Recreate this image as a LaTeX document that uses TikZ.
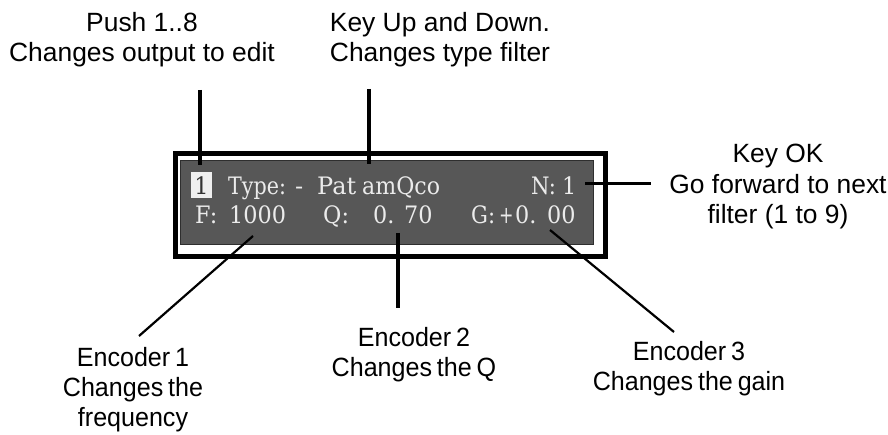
\documentclass[tikz,border=0pt]{standalone}
\usepackage{fontspec}
\setmainfont{Liberation Sans}
\newfontfamily\lcdfont{DejaVu Serif}
\newfontfamily\narrowsans[FakeStretch=0.95,WordSpace=0.7]{Liberation Sans}
\definecolor{lcdbg}{HTML}{575757}
\definecolor{lcdedge}{HTML}{2E2E2E}
\definecolor{lcdtxt}{HTML}{EBEBEB}
\definecolor{cursorbg}{HTML}{EFEFEF}
% horizontally narrowed display glyphs
\newcommand{\lcdsq}[2][0.93]{\scalebox{#1}[1]{#2}}
\begin{document}
\begin{tikzpicture}[x=1pt,y=-1pt,
  note/.style={font=\fontsize{26.4}{30.5}\selectfont, align=center, anchor=base, inner sep=0pt},
  narrownote/.style={note, font=\narrowsans\fontsize{26.4}{30}\selectfont},
  lcdtext/.style={font=\lcdfont\fontsize{24}{28}\selectfont, text=lcdtxt, anchor=base west, inner sep=0pt},
  leader/.style={line width=3.2pt},
  slantleader/.style={line width=2.2pt},
]
\useasboundingbox (0,0) rectangle (888,435);

% display bezel and panel
\node[draw, line width=5.5pt, minimum width=430pt, minimum height=103pt,
      anchor=north west, inner sep=0pt] (bezel) at (172.5,151) {};
\node[fill=lcdbg, draw=lcdedge, line width=1pt, minimum width=413pt,
      minimum height=84pt, anchor=north west, inner sep=0pt] (lcd) at (180,160) {};

% first row of the display
\node[fill=cursorbg, text=black!80, font=\lcdfont\fontsize{24}{28}\selectfont,
      inner sep=0pt, text height=22pt, text depth=4pt, minimum width=21pt,
      anchor=base] (cursor) at (201.5,194.5) {\lcdsq{1}};
\node[lcdtext] (type) at (228,194.5) {\lcdsq[0.86]{Type:}};
\node[lcdtext] (dash) at (295,194.5) {-};
\node[lcdtext] (pat) at (317,194.5) {Pat};
\node[lcdtext] (amq) at (362,194.5) {\lcdsq[0.92]{amQco}};
\node[lcdtext] (nlab) at (531,194.5) {\lcdsq[0.88]{N:}};
\node[lcdtext] (nval) at (562,194.5) {\lcdsq{1}};

% second row of the display
\node[lcdtext] (flab) at (195,223.5) {\lcdsq{F:}};
\node[lcdtext] (fval) at (229,223.5) {\lcdsq{1000}};
\node[lcdtext] (qlab) at (323,223.5) {\lcdsq{Q:}};
\node[lcdtext] (qint) at (373,223.5) {\lcdsq{0.}};
\node[lcdtext] (qfrac) at (404,223.5) {\lcdsq{70}};
\node[lcdtext] (glab) at (471,223.5) {\lcdsq[0.88]{G:}};
\node[lcdtext] (gsign) at (499,223.5) {\lcdsq[0.72]{+}};
\node[lcdtext] (gint) at (515,223.5) {\lcdsq{0.}};
\node[lcdtext] (gfrac) at (547,223.5) {\lcdsq{00}};

% explanations (anchored at the baseline of their last line)
\node[note] (push) at (142,62) {Push 1..8\\Changes output to edit};
\node[note] (keyud) at (440,62) {Key Up and Down.\\Changes type filter};
\node[note] (keyok) at (778,224) {Key OK\\Go forward to next\\filter (1 to 9)};
\node[narrownote] (enc1) at (133,426) {Encoder 1\\Changes the\\frequency};
\node[narrownote] (enc2) at (414,376) {Encoder 2\\Changes the Q};
\node[narrownote] (enc3) at (689,390) {Encoder 3\\Changes the gain};

% leader ends
\coordinate (pushTop) at (200,90);
\coordinate (pushEnd) at (200,165);
\coordinate (keyudTop) at (369,89);
\coordinate (keyudEnd) at (369,164);
\coordinate (keyokEnd) at (585,183.5);
\coordinate (keyokTip) at (651,183.5);
\coordinate (enc1Start) at (253,236);
\coordinate (enc1Tip) at (139,336);
\coordinate (enc2Start) at (398,233);
\coordinate (enc2Tip) at (398,308);
\coordinate (enc3Start) at (550,230);
\coordinate (enc3Tip) at (674,332);

\draw[leader] (pushTop) -- (pushEnd);
\draw[leader] (keyudTop) -- (keyudEnd);
\draw[leader] (keyokEnd) -- (keyokTip);
\draw[slantleader] (enc1Start) -- (enc1Tip);
\draw[leader] (enc2Start) -- (enc2Tip);
\draw[slantleader] (enc3Start) -- (enc3Tip);
\end{tikzpicture}
\end{document}
